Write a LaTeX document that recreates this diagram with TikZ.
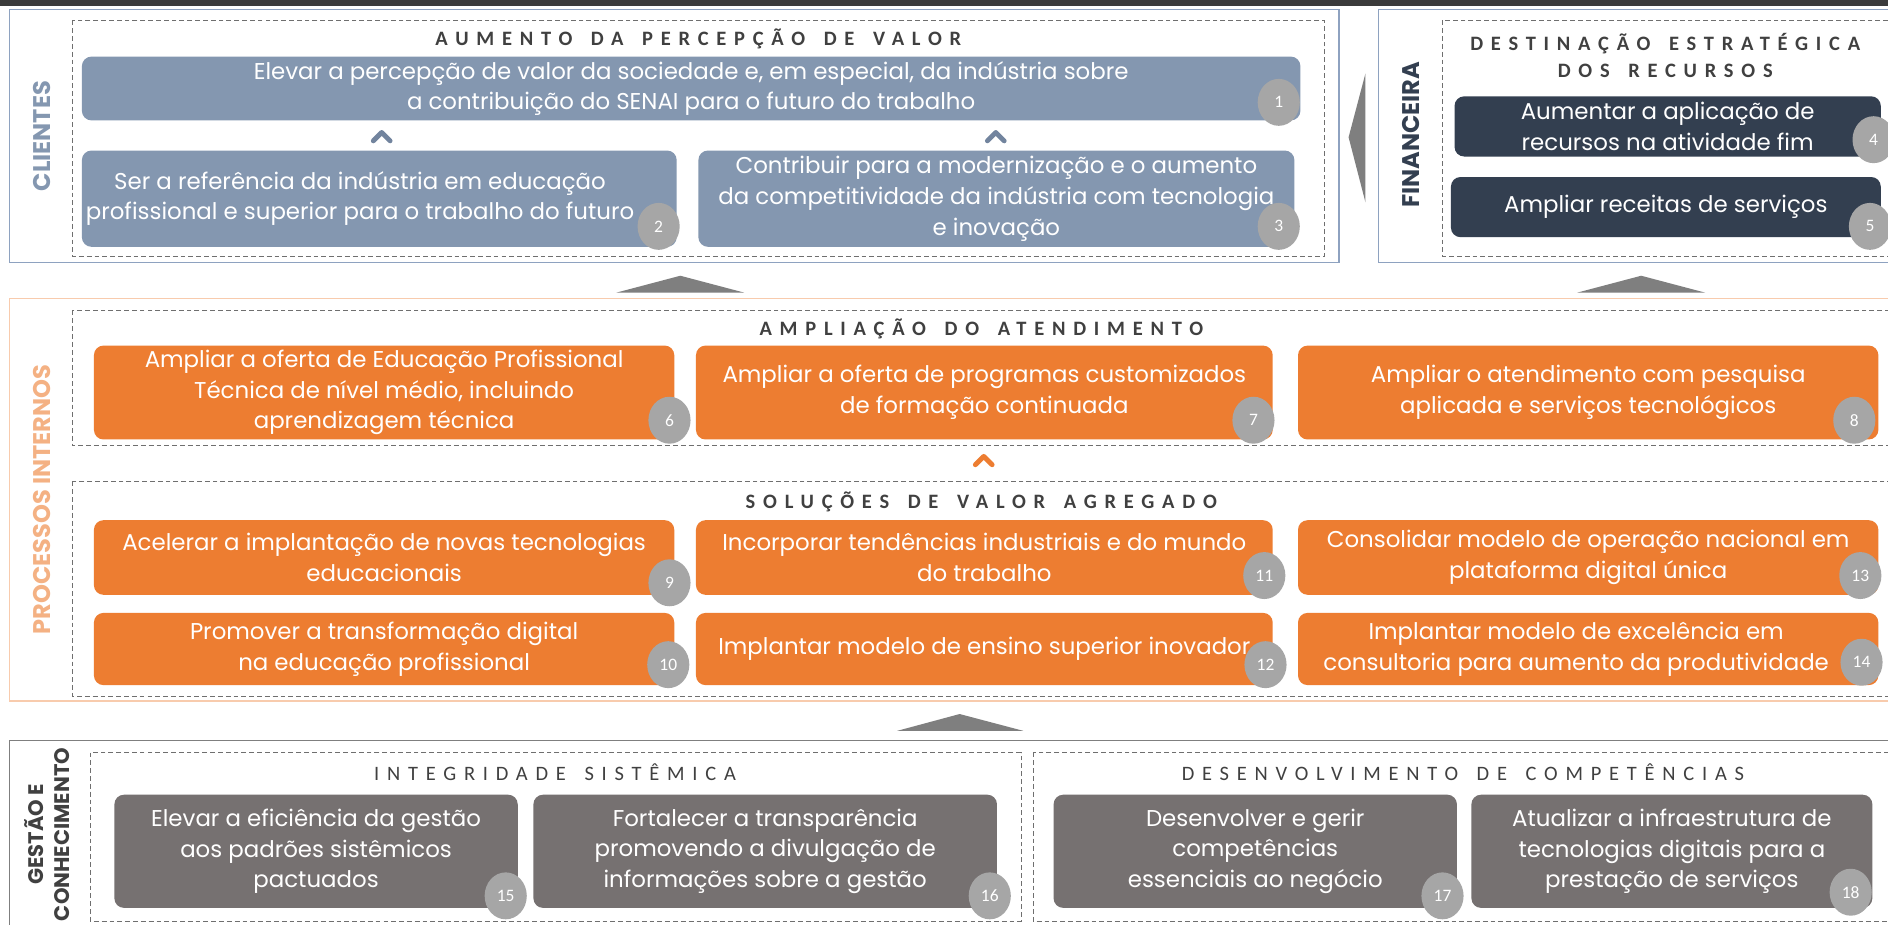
\documentclass[tikz,border=0pt]{standalone}
\usepackage{fontspec}
\setmainfont{Poppins}
\newfontfamily\capsfont[LetterSpace=38, WordSpace=1.5]{Carlito}
\newfontfamily\numfont{Carlito}
\usetikzlibrary{shapes.geometric, positioning}

\definecolor{cliblue}{HTML}{8497B0}
\definecolor{clichev}{HTML}{72849E}
\definecolor{cliline}{HTML}{8EA2C0}
\definecolor{finnavy}{HTML}{333F50}
\definecolor{procorange}{HTML}{ED7D31}
\definecolor{proclight}{HTML}{F4B183}
\definecolor{procline}{HTML}{F8CBAD}
\definecolor{gestgray}{HTML}{767171}
\definecolor{badgegray}{HTML}{A6A6A6}
\definecolor{arrowgray}{HTML}{7F7F7F}
\definecolor{dashgray}{HTML}{6F6F6F}
\definecolor{titlegray}{HTML}{404040}
\definecolor{topbar}{HTML}{3B3B3B}

\tikzset{
  goaltext/.style={text=white, align=center, inner sep=0pt, font=\fontsize{19}{25.5}\selectfont},
  goal/.style={goaltext, rounded corners=8pt},
  cligoal/.style={goal, fill=cliblue},
  fingoal/.style={goal, fill=finnavy},
  procgoal/.style={goal, fill=procorange},
  gestgoal/.style={goal, fill=gestgray},
  badge/.style={ellipse, fill=badgegray, text=white, inner sep=0pt, minimum width=35pt, minimum height=39pt, font=\numfont\fontsize{14.5}{15}\selectfont},
  dashframe/.style={draw=dashgray, line width=0.7pt, dash pattern=on 4pt off 2.5pt},
  grouptitle/.style={text=titlegray, align=center, font=\capsfont\bfseries\fontsize{17}{22}\selectfont},
  grouptitlelight/.style={grouptitle, font=\capsfont\fontsize{17}{22}\selectfont},
  sidelabel/.style={rotate=90, align=center, font=\bfseries\fontsize{20}{22}\selectfont},
  bigarrow/.style={fill=arrowgray},
  chev/.style={line width=4pt, line cap=round, line join=round}
}

\begin{document}
\begin{tikzpicture}[x=1pt, y=-1pt]
\useasboundingbox (0,0) rectangle (1568,768);
\clip (0,0) rectangle (1568,768);
\fill[white] (0,0) rectangle (1568,768);

% top strip
\fill[topbar] (0,0) rectangle (1568,5);

% ---------------- Clientes
\draw[cliline, line width=1.3pt] (8,8) rectangle (1112,218);
\draw[dashframe] (60,17) rectangle (1100,213);
\node[sidelabel, text=cliblue] (clientes) at (35,113) {CLIENTES};
\node[grouptitle] (tValor) at (580,32) {AUMENTO DA PERCEPÇÃO DE VALOR};

\node[cligoal, minimum width=1012pt, minimum height=53pt] (g1) at (574,73.5)
  {Elevar a percepção de valor da sociedade e, em especial, da indústria sobre\\a contribuição do SENAI para o futuro do trabalho};
\node[cligoal, minimum width=494pt, minimum height=80pt] (g2) at (315,165) {};
\node[goaltext] (g2t) at ([xshift=-16pt]g2.center)
  {Ser a referência da indústria em educação\\profissional e superior para o trabalho do futuro};
\node[cligoal, minimum width=495pt, minimum height=80pt] (g3) at (827.5,165)
  {Contribuir para a modernização e o aumento\\da competitividade da indústria com tecnologia\\e inovação};

\draw[chev, clichev] (310,117) -- (317,110) -- (324,117);
\draw[chev, clichev] (820,117) -- (827,110) -- (834,117);

\node[badge] (b1) at (1062,85) {1};
\node[badge] (b2) at (547,188) {2};
\node[badge] (b3) at (1062,188) {3};

% arrow from financeira
\fill[bigarrow] (1120,114) -- (1134,61) -- (1134,168) -- cycle;

% ---------------- Financeira
\draw[cliline, line width=1.3pt] (1145,8) rectangle (1590,218);
\draw[dashframe] (1198,17) rectangle (1590,213);
\node[sidelabel, text=finnavy] (financeira) at (1172,112) {FINANCEIRA};
\node[grouptitle] (tRecursos) at (1383,46) {DESTINAÇÃO ESTRATÉGICA\\DOS RECURSOS};

\node[fingoal, minimum width=354pt, minimum height=50pt] (g4) at (1385,105)
  {Aumentar a aplicação de\\recursos na atividade fim};
\node[fingoal, minimum width=357pt, minimum height=50pt] (g5) at (1383.5,172)
  {Ampliar receitas de serviços};
\node[badge] (b4) at (1556,116) {4};
\node[badge] (b5) at (1553,188) {5};

% arrows up to the upper perspectives
\fill[bigarrow] (512,243) -- (565,229) -- (618,243) -- cycle;
\fill[bigarrow] (1310,243) -- (1363,229) -- (1416,243) -- cycle;

% ---------------- Processos internos
\draw[procline, line width=1.3pt] (8,248) rectangle (1590,582);
\node[sidelabel, text=proclight] (processos) at (35,415) {PROCESSOS INTERNOS};

\draw[dashframe] (60,258) rectangle (1590,370);
\node[grouptitle] (tAtendimento) at (815,273) {AMPLIAÇÃO DO ATENDIMENTO};

\node[procgoal, minimum width=482pt, minimum height=78pt] (g6) at (319,326)
  {Ampliar a oferta de Educação Profissional\\Técnica de nível médio, incluindo\\aprendizagem técnica};
\node[procgoal, minimum width=479pt, minimum height=78pt] (g7) at (817.5,326)
  {Ampliar a oferta de programas customizados\\de formação continuada};
\node[procgoal, minimum width=482pt, minimum height=78pt] (g8) at (1319,326)
  {Ampliar o atendimento com pesquisa\\aplicada e serviços tecnológicos};
\node[badge] (b6) at (556,349) {6};
\node[badge] (b7) at (1041,349) {7};
\node[badge] (b8) at (1540,349) {8};

\draw[chev, procorange] (810,386) -- (817,379) -- (824,386);

\draw[dashframe] (60,400) rectangle (1590,578);
\node[grouptitle] (tSolucoes) at (815,417) {SOLUÇÕES DE VALOR AGREGADO};

\node[procgoal, minimum width=482pt, minimum height=62pt] (g9) at (319,463)
  {Acelerar a implantação de novas tecnologias\\educacionais};
\node[procgoal, minimum width=479pt, minimum height=62pt] (g11) at (817.5,463)
  {Incorporar tendências industriais e do mundo\\do trabalho};
\node[procgoal, minimum width=482pt, minimum height=62pt] (g13) at (1319,463)
  {Consolidar modelo de operação nacional em\\plataforma digital única};
\node[procgoal, minimum width=482pt, minimum height=60pt] (g10) at (319,539)
  {Promover a transformação digital\\na educação profissional};
\node[procgoal, minimum width=479pt, minimum height=60pt] (g12) at (817.5,539)
  {Implantar modelo de ensino superior inovador};
\node[procgoal, minimum width=482pt, minimum height=60pt] (g14) at (1319,539) {};
\node[goaltext] (g14t) at ([xshift=-10pt]g14.center)
  {Implantar modelo de excelência em\\consultoria para aumento da produtividade};
\node[badge] (b9) at (556,484) {9};
\node[badge] (b10) at (555,552) {10};
\node[badge] (b11) at (1050,478) {11};
\node[badge] (b12) at (1051,552) {12};
\node[badge] (b13) at (1545,478) {13};
\node[badge] (b14) at (1546,550) {14};

\fill[bigarrow] (745,607) -- (797,593) -- (850,607) -- cycle;

% ---------------- Gestao e conhecimento
\draw[arrowgray, line width=1.3pt] (8,615) rectangle (1590,790);
\node[sidelabel, text=titlegray, font=\bfseries\fontsize{17.5}{21}\selectfont] (gestao) at (39,693) {GESTÃO E\\CONHECIMENTO};

\draw[dashframe] (75,625) rectangle (848,765);
\node[grouptitlelight] (tIntegridade) at (461,641) {INTEGRIDADE SISTÊMICA};
\node[gestgoal, minimum width=335pt, minimum height=94pt] (g15) at (262.5,707)
  {Elevar a eficiência da gestão\\aos padrões sistêmicos\\pactuados};
\node[gestgoal, minimum width=385pt, minimum height=94pt] (g16) at (635.5,707)
  {Fortalecer a transparência\\promovendo a divulgação de\\informações sobre a gestão};

\draw[dashframe] (858,625) rectangle (1590,765);
\node[grouptitlelight] (tCompetencias) at (1215,641) {DESENVOLVIMENTO DE COMPETÊNCIAS};
\node[gestgoal, minimum width=335pt, minimum height=94pt] (g17) at (1042.5,707)
  {Desenvolver e gerir\\competências\\essenciais ao negócio};
\node[gestgoal, minimum width=333pt, minimum height=94pt] (g18) at (1388.5,707)
  {Atualizar a infraestrutura de\\tecnologias digitais para a\\prestação de serviços};

\node[badge] (b15) at (420,744) {15};
\node[badge] (b16) at (822,744) {16};
\node[badge] (b17) at (1198,744) {17};
\node[badge] (b18) at (1537,741) {18};
\end{tikzpicture}
\end{document}
